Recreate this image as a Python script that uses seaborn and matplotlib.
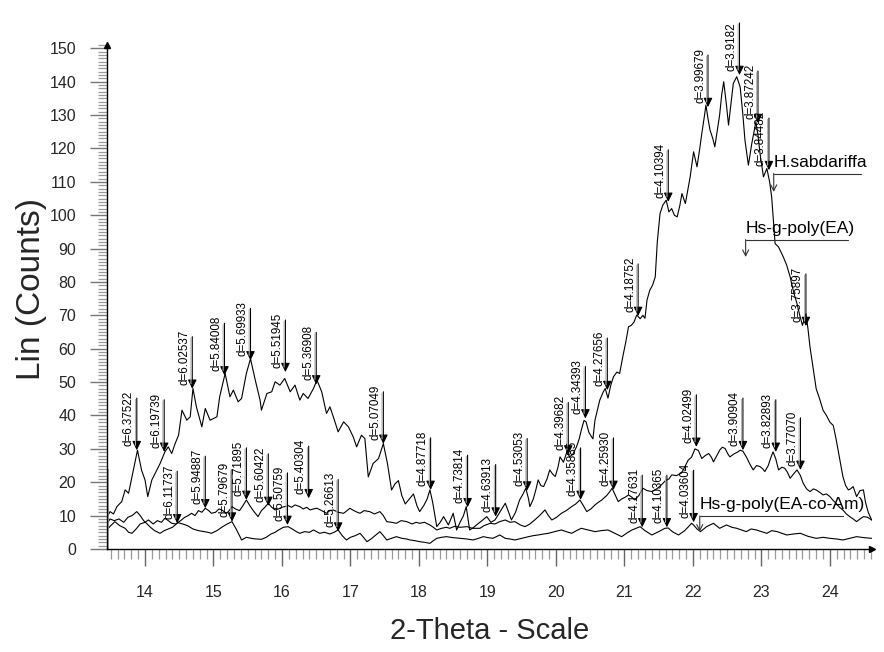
import numpy as np
import pandas as pd
import seaborn as sns
import matplotlib
matplotlib.use("Agg")
import matplotlib.pyplot as plt
from matplotlib.transforms import offset_copy

# ---------------- data ----------------
sab_theta = [13.45, 13.49, 13.54, 13.59, 13.66, 13.71, 13.76, 13.81, 13.85, 13.89, 13.95, 14.00, 14.04, 14.10,
             14.17, 14.22, 14.29, 14.34, 14.39, 14.44, 14.49, 14.54, 14.61, 14.66, 14.70, 14.75, 14.83, 14.88,
             14.95, 15.05, 15.09, 15.17, 15.24, 15.29, 15.36, 15.41, 15.48, 15.54, 15.61, 15.68, 15.70, 15.78,
             15.85, 15.90, 15.97, 16.04, 16.12, 16.19, 16.26, 16.31, 16.38, 16.46, 16.51, 16.58, 16.65, 16.70,
             16.75, 16.82, 16.90, 16.97, 17.04, 17.09, 17.16, 17.21, 17.26, 17.33, 17.41, 17.48, 17.54, 17.60,
             17.65, 17.70, 17.75, 17.80, 17.86, 17.92, 17.97, 18.01, 18.07, 18.12, 18.16, 18.20, 18.26, 18.31,
             18.36, 18.43, 18.50, 18.55, 18.60, 18.65, 18.69, 18.74, 18.80, 18.84, 18.92, 18.99, 19.05, 19.11,
             19.18, 19.26, 19.31, 19.35, 19.41, 19.47, 19.52, 19.56, 19.60, 19.62, 19.67, 19.71, 19.74, 19.78,
             19.82, 19.87, 19.91, 19.95, 19.99, 20.03, 20.06, 20.11, 20.16, 20.20, 20.25, 20.30, 20.34, 20.37,
             20.41, 20.44, 20.48, 20.52, 20.54, 20.57, 20.61, 20.64, 20.69, 20.72, 20.76, 20.80, 20.84, 20.89,
             20.93, 20.98, 21.02, 21.06, 21.10, 21.14, 21.18, 21.23, 21.27, 21.30, 21.33, 21.37, 21.41, 21.45,
             21.48, 21.52, 21.56, 21.61, 21.65, 21.69, 21.73, 21.77, 21.81, 21.84, 21.89, 21.93, 21.96, 22.01,
             22.06, 22.10, 22.13, 22.17, 22.19, 22.22, 22.25, 22.29, 22.32, 22.36, 22.39, 22.42, 22.45, 22.49,
             22.52, 22.56, 22.59, 22.64, 22.69, 22.73, 22.76, 22.81, 22.86, 22.92, 22.95, 22.98, 23.03, 23.08,
             23.12, 23.15, 23.18, 23.20, 23.25, 23.32, 23.37, 23.42, 23.47, 23.52, 23.56, 23.60, 23.65, 23.68,
             23.71, 23.75, 23.80, 23.85, 23.90, 23.95, 24.00, 24.05, 24.09, 24.12, 24.16, 24.19, 24.23, 24.27,
             24.30, 24.34, 24.39, 24.44, 24.49, 24.52, 24.56, 24.61]
sab_counts = [9.7, 11.2, 10.5, 12.7, 14.2, 17.7, 16.7, 21.6, 25.6, 29.6, 23.6, 20.7, 15.7, 20.7,
              23.6, 25.6, 29.1, 30.6, 28.6, 31.6, 34.1, 41.6, 38.6, 39.6, 48.1, 42.6, 36.6, 42.1,
              38.6, 39.6, 45.6, 52.6, 45.6, 47.6, 44.1, 45.1, 52.6, 57.0, 50.6, 44.6, 41.6, 46.6,
              47.1, 50.1, 49.1, 51.1, 47.1, 49.1, 44.6, 46.6, 45.1, 48.1, 50.6, 47.1, 40.6, 42.6,
              39.6, 35.1, 38.1, 36.6, 33.6, 30.6, 34.1, 33.1, 21.6, 25.6, 27.1, 31.6, 25.6, 17.7,
              19.5, 20.5, 16.0, 13.5, 15.0, 16.5, 13.0, 11.2, 13.0, 15.0, 17.7, 14.0, 6.7, 8.0,
              9.7, 7.2, 10.7, 5.7, 8.0, 10.0, 12.7, 5.7, 6.5, 7.2, 8.5, 9.7, 8.0, 8.7,
              11.0, 13.7, 11.0, 8.7, 11.0, 14.7, 16.5, 18.2, 15.0, 12.7, 15.0, 18.0, 20.7, 19.0,
              18.7, 21.0, 23.7, 22.5, 21.7, 24.5, 27.6, 26.0, 29.1, 27.6, 28.5, 30.6, 33.0, 35.6,
              38.5, 38.1, 35.0, 33.6, 33.0, 38.6, 42.0, 44.6, 47.0, 48.1, 45.2, 49.0, 51.6, 53.0,
              52.6, 58.0, 62.0, 66.6, 67.0, 68.0, 70.1, 69.0, 70.0, 69.1, 74.6, 77.5, 79.0, 81.5,
              92.0, 100.5, 103.0, 104.5, 101.0, 102.0, 100.0, 99.5, 103.0, 106.5, 103.5, 108.0, 111.5, 119.0,
              114.5, 120.0, 124.5, 130.0, 133.0, 129.0, 125.5, 123.0, 120.5, 126.0, 130.0, 136.0, 140.0, 133.0,
              127.0, 134.0, 139.5, 141.5, 138.4, 130.0, 122.5, 115.0, 121.5, 128.0, 124.0, 118.5, 111.5, 114.0,
              110.0, 105.5, 97.0, 91.5, 90.5, 87.5, 85.0, 81.5, 77.0, 73.5, 70.0, 67.0, 70.5, 66.0,
              60.5, 55.0, 48.0, 45.0, 41.6, 40.0, 38.0, 37.0, 33.0, 29.6, 25.0, 21.7, 19.0, 17.7,
              18.0, 18.7, 15.7, 17.5, 17.7, 14.0, 11.0, 8.7]

ea_theta = [13.44, 13.50, 13.56, 13.63, 13.71, 13.76, 13.81, 13.87, 13.93, 14.00, 14.05, 14.12, 14.18, 14.24,
            14.29, 14.34, 14.39, 14.45, 14.52, 14.58, 14.63, 14.68, 14.73, 14.78, 14.83, 14.88, 14.93, 14.97,
            15.03, 15.08, 15.12, 15.19, 15.23, 15.27, 15.32, 15.38, 15.43, 15.48, 15.53, 15.58, 15.62, 15.65,
            15.70, 15.75, 15.80, 15.85, 15.90, 15.95, 16.00, 16.04, 16.09, 16.14, 16.19, 16.26, 16.31, 16.36,
            16.41, 16.46, 16.51, 16.58, 16.65, 16.70, 16.75, 16.82, 16.90, 16.95, 16.99, 17.05, 17.10, 17.14,
            17.20, 17.28, 17.35, 17.43, 17.48, 17.53, 17.60, 17.67, 17.74, 17.82, 17.90, 17.96, 18.01, 18.08,
            18.16, 18.21, 18.26, 18.33, 18.40, 18.45, 18.52, 18.60, 18.70, 18.78, 18.89, 18.95, 19.04, 19.11,
            19.18, 19.26, 19.33, 19.40, 19.48, 19.55, 19.62, 19.69, 19.76, 19.84, 19.89, 19.94, 20.01, 20.08,
            20.15, 20.23, 20.29, 20.35, 20.40, 20.45, 20.51, 20.57, 20.62, 20.67, 20.74, 20.78, 20.82, 20.87,
            20.91, 20.96, 21.01, 21.06, 21.11, 21.15, 21.21, 21.27, 21.33, 21.40, 21.47, 21.54, 21.60, 21.65,
            21.69, 21.76, 21.83, 21.88, 21.93, 21.98, 22.03, 22.08, 22.13, 22.18, 22.23, 22.27, 22.30, 22.35,
            22.39, 22.43, 22.47, 22.51, 22.54, 22.60, 22.65, 22.69, 22.73, 22.78, 22.83, 22.88, 22.93, 22.98,
            23.02, 23.05, 23.10, 23.14, 23.17, 23.21, 23.25, 23.30, 23.34, 23.38, 23.42, 23.47, 23.52, 23.57,
            23.61, 23.66, 23.71, 23.76, 23.80, 23.85, 23.90, 23.95, 24.00, 24.05, 24.09, 24.14, 24.19, 24.24,
            24.29, 24.34, 24.39, 24.44, 24.49, 24.55, 24.61]
ea_counts = [5.7, 7.0, 8.2, 7.0, 6.2, 5.0, 4.7, 6.0, 7.5, 8.0, 8.7, 7.5, 8.5, 8.0,
             9.2, 8.5, 7.7, 7.5, 8.5, 9.5, 10.0, 10.7, 10.0, 11.5, 11.0, 12.2, 11.5, 10.7,
             11.0, 12.0, 11.7, 10.7, 11.5, 12.7, 12.0, 11.5, 13.0, 14.7, 13.0, 11.5, 10.5, 9.7,
             11.5, 12.5, 13.7, 12.5, 11.7, 12.0, 12.5, 12.7, 13.0, 12.5, 13.2, 12.7, 12.0, 12.5,
             11.7, 12.0, 12.2, 11.5, 10.7, 11.5, 11.7, 11.0, 10.7, 11.5, 12.2, 11.5, 11.0, 10.7,
             11.5, 11.2, 10.5, 11.2, 10.0, 8.2, 8.0, 7.7, 8.5, 8.2, 7.5, 8.0, 7.7, 8.0,
             7.2, 6.5, 5.7, 6.2, 6.5, 6.2, 6.8, 6.5, 6.7, 6.2, 6.2, 7.0, 7.7, 7.5,
             8.2, 8.7, 8.0, 8.2, 7.2, 6.7, 7.5, 8.7, 10.0, 11.7, 10.0, 8.7, 9.5, 10.7,
             11.5, 12.7, 13.5, 14.7, 13.0, 11.2, 12.0, 13.2, 14.0, 14.7, 16.0, 17.0, 18.2, 16.0,
             14.2, 15.0, 15.5, 16.2, 15.5, 14.7, 16.0, 18.2, 17.5, 17.2, 18.0, 19.2, 20.5, 21.0,
             22.2, 22.0, 22.7, 24.5, 26.6, 27.5, 30.0, 29.5, 27.1, 28.0, 28.6, 27.5, 26.1, 28.0,
             29.6, 30.5, 30.1, 28.5, 27.6, 28.5, 29.0, 29.6, 29.3, 27.6, 25.5, 23.7, 25.0, 24.7,
             24.0, 23.2, 25.0, 27.5, 29.1, 27.0, 23.7, 24.5, 24.2, 23.0, 21.2, 22.5, 23.7, 22.0,
             19.7, 18.0, 17.2, 18.0, 17.7, 17.0, 16.2, 16.5, 15.7, 14.5, 13.7, 12.5, 11.7, 10.5,
             9.7, 9.0, 8.2, 9.0, 9.7, 9.5, 8.7]

eaam_theta = [13.44, 13.49, 13.55, 13.62, 13.69, 13.75, 13.81, 13.88, 13.93, 13.98, 14.03, 14.08, 14.14, 14.22,
              14.28, 14.34, 14.40, 14.48, 14.55, 14.62, 14.70, 14.78, 14.86, 14.92, 14.97, 15.05, 15.12, 15.20,
              15.27, 15.33, 15.38, 15.41, 15.48, 15.55, 15.62, 15.70, 15.77, 15.84, 15.90, 15.95, 16.02, 16.09,
              16.15, 16.21, 16.26, 16.33, 16.40, 16.46, 16.55, 16.62, 16.70, 16.76, 16.82, 16.88, 16.94, 17.00,
              17.07, 17.14, 17.19, 17.24, 17.30, 17.36, 17.43, 17.48, 17.53, 17.60, 17.67, 17.75, 17.82, 17.87,
              17.94, 18.01, 18.08, 18.16, 18.21, 18.26, 18.33, 18.40, 18.50, 18.60, 18.70, 18.79, 18.87, 18.94,
              19.01, 19.08, 19.14, 19.18, 19.26, 19.33, 19.40, 19.50, 19.60, 19.67, 19.74, 19.82, 19.89, 19.98,
              20.08, 20.15, 20.23, 20.30, 20.37, 20.47, 20.57, 20.66, 20.76, 20.86, 20.96, 21.03, 21.11, 21.17,
              21.23, 21.30, 21.40, 21.50, 21.59, 21.64, 21.70, 21.79, 21.88, 21.95, 21.98, 22.01, 22.06, 22.11,
              22.20, 22.30, 22.39, 22.49, 22.57, 22.64, 22.71, 22.78, 22.85, 22.93, 23.00, 23.08, 23.15, 23.23,
              23.30, 23.37, 23.47, 23.57, 23.68, 23.80, 23.90, 24.00, 24.10, 24.19, 24.29, 24.39, 24.50, 24.61]
eaam_counts = [7.5, 9.0, 8.5, 9.0, 8.0, 9.5, 10.0, 11.2, 10.0, 8.5, 7.5, 6.5, 5.5, 4.7,
               5.5, 6.0, 6.5, 7.9, 7.5, 7.0, 6.0, 5.5, 5.2, 5.0, 4.7, 5.5, 6.5, 7.5,
               8.2, 6.0, 4.0, 2.7, 3.5, 3.2, 3.0, 2.9, 3.5, 4.5, 5.0, 5.7, 6.5, 6.7,
               6.0, 5.2, 4.7, 5.2, 5.0, 5.7, 4.7, 5.0, 4.5, 5.0, 5.7, 4.0, 2.7, 3.5,
               4.0, 4.7, 3.5, 2.2, 3.0, 4.0, 5.2, 4.0, 2.7, 3.2, 3.7, 3.2, 3.0, 2.7,
               2.5, 2.2, 2.0, 1.7, 2.5, 3.2, 3.5, 3.7, 3.4, 3.2, 3.0, 2.7, 3.2, 3.7,
               3.4, 3.2, 3.8, 4.2, 3.2, 3.0, 2.7, 3.2, 3.7, 4.0, 4.2, 4.5, 4.7, 5.2,
               5.7, 5.2, 4.7, 5.5, 6.2, 5.7, 5.2, 5.5, 5.7, 4.7, 3.7, 4.7, 5.7, 6.2,
               6.7, 5.5, 4.2, 5.2, 6.2, 6.3, 5.2, 4.2, 5.5, 7.0, 7.7, 7.2, 6.0, 5.2,
               6.7, 7.7, 6.2, 7.2, 6.5, 6.2, 5.7, 5.2, 6.0, 5.7, 5.2, 4.7, 5.5, 5.2,
               4.7, 4.2, 4.5, 4.7, 3.8, 3.2, 3.5, 3.2, 3.0, 2.7, 3.2, 3.7, 3.4, 3.2]

# peak markers: 2-theta position, d-spacing label, intensity at arrow tip
peak_theta = [13.88, 14.28, 14.69, 15.16, 15.54, 16.05, 16.50, 17.48, 18.17, 18.71, 19.12, 19.58,
              20.18, 20.43, 20.75, 21.20, 21.64, 22.22, 22.68, 22.95, 23.11, 23.65,
              14.88, 15.48, 15.80, 16.39, 20.36, 20.84, 22.05, 22.73, 23.21, 23.57,
              14.47, 15.27, 16.08, 16.82, 21.26, 21.62, 22.01]
peak_d = ["d=6.37522", "d=6.19739", "d=6.02537", "d=5.84008", "d=5.69933", "d=5.51945", "d=5.36908",
          "d=5.07049", "d=4.87718", "d=4.73814", "d=4.63913", "d=4.53053", "d=4.39682", "d=4.34393",
          "d=4.27656", "d=4.18752", "d=4.10394", "d=3.99679", "d=3.9182", "d=3.87242", "d=3.84482",
          "d=3.75897",
          "d=5.94887", "d=5.71895", "d=5.60422", "d=5.40304", "d=4.35885", "d=4.25930", "d=4.02499",
          "d=3.90904", "d=3.82893", "d=3.77070",
          "d=6.11737", "d=5.79679", "d=5.50759", "d=5.26613", "d=4.17631", "d=4.10365", "d=4.03604"]
peak_counts = [29.6, 29.1, 48.0, 52.0, 56.5, 53.0, 49.3, 31.5, 17.7, 12.5, 9.7, 17.5,
               28.3, 39.1, 47.6, 69.8, 104.0, 132.4, 142.0, 127.6, 113.5, 66.8,
               12.2, 14.7, 12.9, 15.2, 14.7, 17.7, 30.6, 29.6, 29.1, 23.7,
               7.7, 8.2, 7.2, 5.2, 6.5, 6.5, 8.0]

series_names = ["H.sabdariffa", "Hs-g-poly(EA)", "Hs-g-poly(EA-co-Am)"]

# ---------------- figure ----------------
sns.set_theme(style="white")
plt.rcParams["font.family"] = ["Liberation Sans", "DejaVu Sans"]

W, H = 884, 652
fig = plt.figure(figsize=(W / 100, H / 100), dpi=100)
ax = fig.add_axes([107 / W, 1 - 549 / H, (872 - 107) / W, (549 - 45) / H])

frames = []
for name, th, ct in [(series_names[0], sab_theta, sab_counts),
                     (series_names[1], ea_theta, ea_counts),
                     (series_names[2], eaam_theta, eaam_counts)]:
    frames.append(pd.DataFrame({"theta": th, "counts": ct, "sample": name}))
df = pd.concat(frames, ignore_index=True)

for name in series_names:
    sub = df[df["sample"] == name]
    sns.lineplot(data=sub, x="theta", y="counts", ax=ax, color="black", lw=0.8,
                 estimator=None, sort=False, legend=False)

x0, x1 = 13.445, 24.615
ax.set_xlim(x0, x1)
ax.set_ylim(0, 151)

# gray start marker at the scan origin
ax.vlines(x0 + 0.01, 0, 24, color="#999999", lw=1.2)

# axes styling
for s in ["top", "right"]:
    ax.spines[s].set_visible(False)
for s in ["left", "bottom"]:
    ax.spines[s].set_color("black")
    ax.spines[s].set_linewidth(1.0)

ax.set_xticks(np.arange(14, 25, 1))
ax.set_xticks(np.arange(13.5, 24.61, 0.1), minor=True)
ax.set_yticks(np.arange(0, 151, 10))
ax.set_yticks(np.arange(0, 152, 1), minor=True)
ax.tick_params(axis="x", which="major", direction="out", length=12.2, width=1.0, color="#666666",
               pad=14, labelsize=11.5, bottom=True)
ax.tick_params(axis="x", which="minor", direction="out", length=7.5, width=0.9, color="#9a9a9a", bottom=True)
ax.tick_params(axis="y", which="major", direction="out", length=12.2, width=1.0, color="#777777",
               pad=10, labelsize=11.5, left=True)
ax.tick_params(axis="y", which="minor", direction="out", length=6.5, width=0.9, color="#9a9a9a", left=True)
ax.grid(False)

# small arrowheads at the axis ends
ax.plot([0], [1.0], marker="^", color="black", markersize=4, transform=ax.transAxes, clip_on=False)
ax.plot([1.0], [0], marker=">", color="black", markersize=4, transform=ax.transAxes, clip_on=False)

ax.set_xlabel("2-Theta - Scale", fontsize=21)
ax.set_ylabel("Lin (Counts)", fontsize=24)
ax.xaxis.set_label_coords(0.5, -0.135)
ax.yaxis.set_label_coords(-0.078, 0.515)

# peak arrows with d-spacing labels
for th, lab, ct in zip(peak_theta, peak_d, peak_counts):
    ax.annotate("", xy=(th, ct), xytext=(0, 37.5), textcoords="offset points",
                arrowprops=dict(arrowstyle="-|>,head_length=0.45,head_width=0.22",
                                color="black", lw=0.8, shrinkA=0, shrinkB=0))
    tr = offset_copy(ax.transData, fig=fig, x=-1.3, y=5, units="dots")
    ax.annotate("", xy=(th, ct), xycoords=tr, xytext=(0, 33), textcoords="offset points",
                arrowprops=dict(arrowstyle="-", color="#b0b0b0", lw=0.8, shrinkA=0, shrinkB=0))
    ax.annotate(lab, xy=(th, ct), xytext=(-1.4, 3), textcoords="offset points",
                rotation=90, ha="right", va="bottom", fontsize=8.4, color="black",
                annotation_clip=False)

# sample labels with leader lines
label_pos = [(23.18, 112.5, 24.46, 107.0),
             (22.77, 92.7, 24.26, 87.5),
             (22.10, 9.9, 24.19, 5.2)]
for name, (lx, ly, rx, ay) in zip(series_names, label_pos):
    ax.plot([lx, rx], [ly, ly], color="#333333", lw=0.8)
    ax.annotate("", xy=(lx, ay), xytext=(lx, ly),
                arrowprops=dict(arrowstyle="->,head_length=0.35,head_width=0.18",
                                color="#333333", lw=0.8, shrinkA=0, shrinkB=0))
    ax.annotate(name, xy=(lx, ly), xytext=(0, 2.5), textcoords="offset points",
                ha="left", va="bottom", fontsize=12.5, color="black")

fig.savefig("out.png", dpi=100)
